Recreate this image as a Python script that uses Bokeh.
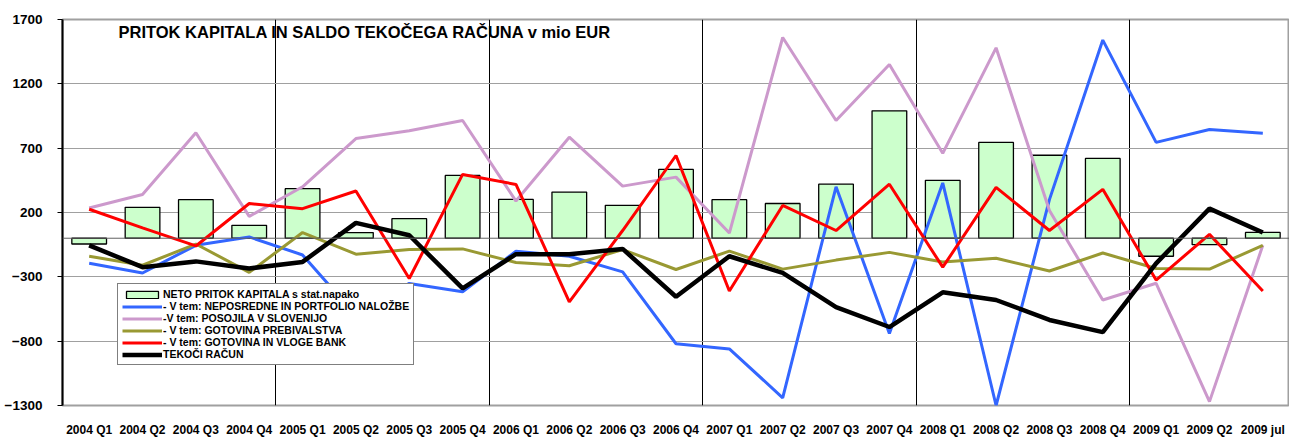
from bokeh.plotting import figure
from bokeh.models import (Range1d, FixedTicker, Span, Legend, LegendItem, Label,
                          ColumnDataSource)
from bokeh.embed import file_html
from bokeh.resources import INLINE

categories = ["2004 Q1", "2004 Q2", "2004 Q3", "2004 Q4",
              "2005 Q1", "2005 Q2", "2005 Q3", "2005 Q4",
              "2006 Q1", "2006 Q2", "2006 Q3", "2006 Q4",
              "2007 Q1", "2007 Q2", "2007 Q3", "2007 Q4",
              "2008 Q1", "2008 Q2", "2008 Q3", "2008 Q4",
              "2009 Q1", "2009 Q2", "2009 jul"]

neto_pritok = [-45, 240, 300, 100, 385, 44, 152, 488, 302, 359, 256, 535,
               300, 270, 420, 990, 450, 745, 645, 620, -140, -50, 45]
neposredne = [-195, -270, -55, 10, -130, -600, -351, -416, -101, -140, -261, -820,
              -860, -1240, 400, -740, 430, -1300, 300, 1540, 745, 845, 815]
posojila = [235, 340, 820, 170, 400, 775, 835, 915, 289, 785, 405, 475,
            40, 1560, 915, 1350, 660, 1480, 215, -480, -350, -1270, -55]
gotovina_preb = [-140, -210, -45, -265, 44, -124, -88, -83, -189, -214, -88, -243,
                 -100, -240, -170, -110, -185, -155, -255, -115, -235, -240, -55]
gotovina_bank = [225, 80, -60, 270, 230, 367, -313, 496, 418, -494, 60, 643,
                 -410, 255, 60, 420, -225, 395, 60, 380, -325, 30, -410]
tekoci = [-55, -225, -180, -235, -184, 119, 23, -390, -124, -124, -83, -455,
          -140, -270, -535, -690, -420, -480, -635, -730, -195, 230, 45]

y_ticks = [-1300, -800, -300, 200, 700, 1200, 1700]
title_text = "PRITOK KAPITALA IN SALDO TEKOČEGA RAČUNA v mio EUR"
legend_labels = ["NETO PRITOK KAPITALA s stat.napako",
                 "- V tem: NEPOSREDNE IN PORTFOLIO NALOŽBE",
                 "-V tem: POSOJILA V SLOVENIJO",
                 "- V tem: GOTOVINA PREBIVALSTVA",
                 "- V tem: GOTOVINA IN VLOGE BANK",
                 "TEKOČI RAČUN"]

n = len(categories)
xs = [i + 0.5 for i in range(n)]
src = ColumnDataSource(dict(x=xs, neto=neto_pritok, nep=neposredne, pos=posojila,
                            gp=gotovina_preb, gb=gotovina_bank, tek=tekoci))

FONT = "Liberation Sans"

p = figure(width=1289, height=439, output_backend="svg", toolbar_location=None,
           x_range=Range1d(0, n), y_range=Range1d(y_ticks[0], y_ticks[-1]),
           min_border_left=62, min_border_right=0, min_border_top=19,
           min_border_bottom=34)
p.background_fill_color = "white"
p.border_fill_color = "white"
p.outline_line_color = "#A0A0A0"
p.outline_line_width = 2

# grids
p.ygrid.ticker = FixedTicker(ticks=y_ticks)
p.ygrid.grid_line_color = "#A0A0A0"
p.ygrid.grid_line_width = 1
p.xgrid.ticker = FixedTicker(ticks=[4, 8, 12, 16, 20])
p.xgrid.grid_line_color = "black"
p.xgrid.grid_line_width = 1

# axes
p.yaxis.ticker = FixedTicker(ticks=y_ticks)
p.yaxis.axis_line_color = "black"
p.yaxis.axis_line_width = 2
p.yaxis.major_tick_line_color = "black"
p.yaxis.major_tick_out = 5
p.yaxis.major_tick_in = 0
p.yaxis.minor_tick_line_color = None
p.yaxis.major_label_text_font = FONT
p.yaxis.major_label_text_font_style = "bold"
p.yaxis.major_label_text_font_size = "13.5px"
p.yaxis.major_label_text_color = "black"
p.yaxis.major_label_standoff = 15

p.xaxis.ticker = FixedTicker(ticks=xs)
p.xaxis.major_label_overrides = {x: c for x, c in zip(xs, categories)}
p.xaxis.axis_line_color = None
p.xaxis.major_tick_line_color = None
p.xaxis.major_tick_out = 0
p.xaxis.major_tick_in = 0
p.xaxis.minor_tick_line_color = None
p.xaxis.minor_tick_out = 0
p.xaxis.major_label_text_font = FONT
p.xaxis.major_label_text_font_style = "bold"
p.xaxis.major_label_text_font_size = "12px"
p.xaxis.major_label_text_color = "black"
p.xaxis.major_label_standoff = 17

p.add_layout(Span(location=0, dimension="width", line_color="#606060", line_width=1))

bars = p.vbar(x="x", top="neto", bottom=0, width=0.65, source=src,
              fill_color="#CCFFCC", line_color="black", line_width=1.3)
r_nep = p.line("x", "nep", source=src, line_color="#3366FF", line_width=3)
r_pos = p.line("x", "pos", source=src, line_color="#CC99CC", line_width=3)
r_gp = p.line("x", "gp", source=src, line_color="#999933", line_width=3)
r_gb = p.line("x", "gb", source=src, line_color="#FF0000", line_width=3)
r_tek = p.line("x", "tek", source=src, line_color="black", line_width=4.5)

renderers = [bars, r_nep, r_pos, r_gp, r_gb, r_tek]
legend = Legend(items=[LegendItem(label=l, renderers=[r]) for l, r in zip(legend_labels, renderers)],
                location=(55, 40), orientation="vertical",
                glyph_width=40, glyph_height=9, label_height=9,
                label_standoff=1, spacing=0, padding=4, margin=0,
                label_text_font=FONT, label_text_font_style="bold",
                label_text_font_size="10.5px", label_text_line_height=0.95,
                label_text_color="black",
                border_line_color="black", border_line_width=1,
                background_fill_color="white", background_fill_alpha=1)
p.add_layout(legend, "center")

p.add_layout(Label(x=56, y=374, x_units="screen", y_units="screen", text=title_text,
                   text_font=FONT, text_font_style="bold", text_font_size="16.5px",
                   text_baseline="middle", text_color="black"))

open("out.html", "w").write(file_html(p, INLINE))
